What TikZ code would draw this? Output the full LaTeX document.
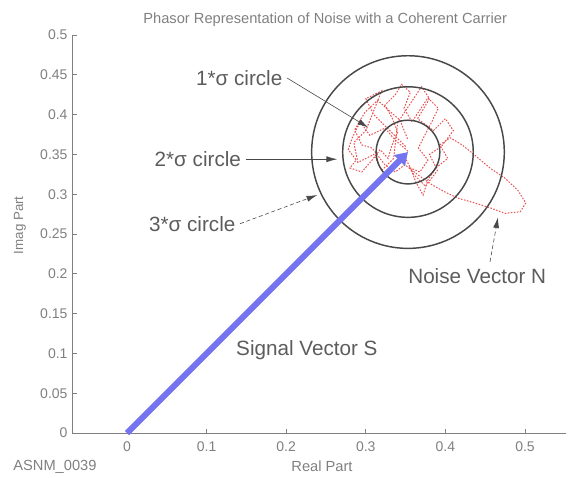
\documentclass[tikz,border=0pt]{standalone}
\usepackage{fontspec}
\setmainfont{Liberation Sans}
\usepackage{tikz}
\usetikzlibrary{arrows.meta,positioning}
\definecolor{axisg}{RGB}{128,128,128}
\definecolor{ringg}{RGB}{72,72,72}
\definecolor{txtg}{RGB}{92,92,92}
\definecolor{sigv}{RGB}{116,116,240}
\definecolor{noisr}{RGB}{232,84,84}

\begin{document}
\begin{tikzpicture}[x=597pt, y=597pt, every node/.style={font=\fontsize{10.5}{12}\selectfont, text=axisg},
  axis/.style={axisg, line width=0.7pt},
  ring/.style={ringg, line width=1.1pt},
  lbl/.style={font=\fontsize{15.5}{18}\selectfont, text=txtg},
  ptr/.style={-{Latex[length=8pt,width=4.5pt]}, ringg, line width=0.45pt},
  noise/.style={noisr, line width=0.75pt, dash pattern=on 1.2pt off 1.1pt}]
\useasboundingbox (-0.1595,-0.0553) rectangle (0.5540,0.5440);
% ---- axes and ticks
\draw[axis] (-0.068,0.5) -- (-0.068,0) -- (0.551,0);
\foreach \v [count=\i] in {0,0.05,0.1,0.15,0.2,0.25,0.3,0.35,0.4,0.45,0.5}{
  \draw[axis] (-0.068,\v) -- (-0.063,\v);
  \node[left=0.5pt] (yt\i) at (-0.068,\v) {\v};
}
\foreach \v [count=\i] in {0,0.1,0.2,0.3,0.4,0.5}{
  \draw[axis] (\v,0) -- (\v,0.005);
  \node[below=3pt] (xt\i) at (\v,0) {\v};
}
\node (title) at (0.249,0.519) {\fontsize{11}{13}\selectfont Phasor Representation of Noise with a Coherent Carrier};
\node (xlab) at (0.245,-0.0415) {\fontsize{11}{13}\selectfont Real Part};
\node[rotate=90] (ylab) at (-0.1344,0.261) {\fontsize{10}{12}\selectfont Imag Part};
\node (tag) at (-0.0905,-0.0427) {\fontsize{11}{13}\selectfont ASNM\_0039};
% ---- noise scribble round the carrier tip
\draw[noise] plot coordinates {(0.353,0.354) (0.337,0.368) (0.324,0.383) (0.305,0.374)
  (0.293,0.391) (0.283,0.371) (0.278,0.356) (0.288,0.343) (0.280,0.333) (0.295,0.328)
  (0.308,0.343) (0.318,0.356) (0.328,0.345) (0.333,0.362) (0.340,0.378) (0.333,0.396)
  (0.324,0.412) (0.337,0.425) (0.345,0.438) (0.356,0.428) (0.348,0.408) (0.358,0.391)
  (0.368,0.406) (0.378,0.421) (0.391,0.408) (0.383,0.391) (0.374,0.374) (0.366,0.358)
  (0.378,0.343) (0.368,0.328) (0.356,0.333) (0.363,0.315) (0.372,0.299) (0.378,0.318)
  (0.388,0.333) (0.403,0.345) (0.393,0.362) (0.406,0.371) (0.421,0.362) (0.437,0.349)
  (0.456,0.333) (0.475,0.320) (0.491,0.305) (0.501,0.289) (0.494,0.278) (0.475,0.276)
  (0.456,0.283) (0.437,0.289) (0.416,0.295) (0.399,0.303) (0.383,0.312) (0.366,0.324)
  (0.349,0.337) (0.337,0.328) (0.324,0.337) (0.308,0.358) (0.295,0.362) (0.286,0.381)
  (0.299,0.403) (0.315,0.418) (0.328,0.406) (0.343,0.393) (0.353,0.368)};
\draw[noise] plot coordinates {(0.350,0.360) (0.310,0.400) (0.300,0.420) (0.320,0.430)
  (0.300,0.380) (0.285,0.365) (0.290,0.340) (0.310,0.350) (0.320,0.330) (0.335,0.345)
  (0.340,0.390) (0.360,0.420) (0.370,0.435) (0.380,0.420) (0.365,0.395) (0.385,0.380)
  (0.400,0.395) (0.410,0.380) (0.395,0.360) (0.380,0.350) (0.390,0.330) (0.375,0.310)
  (0.360,0.325) (0.350,0.345)};
% ---- sigma circles
\coordinate (C) at (0.353,0.353);
\draw[ring] (C) circle[radius=0.04];
\draw[ring] (C) circle[radius=0.082];
\draw[ring] (C) circle[radius=0.121];
% ---- signal vector
\coordinate (O) at (0,0);
\draw[sigv, line width=4.5pt, -{Triangle[length=9pt,width=11pt]}] (O) -- (C);
% ---- labels and pointers
\node[lbl] (l1) at (0.141,0.446) {1*σ circle};
\node[lbl] (l2) at (0.089,0.344) {2*σ circle};
\node[lbl] (l3) at (0.082,0.263) {3*σ circle};
\node[lbl] (ls) at (0.226,0.104) {Signal Vector S};
\node[lbl] (ln) at (0.440,0.197) {Noise Vector N};
\coordinate (t1) at (0.303,0.384);
\coordinate (t2) at (0.264,0.344);
\coordinate (t3) at (0.239,0.299);
\coordinate (nt) at (0.456,0.215);
\coordinate (nn) at (0.466,0.271);
\draw[ptr] (l1.east) -- (t1);
\draw[ptr] (l2.east) -- (t2);
\draw[ptr, densely dashed] (l3.east) -- (t3);
\draw[ptr, densely dashed] (nt) -- (nn);
\end{tikzpicture}
\end{document}
